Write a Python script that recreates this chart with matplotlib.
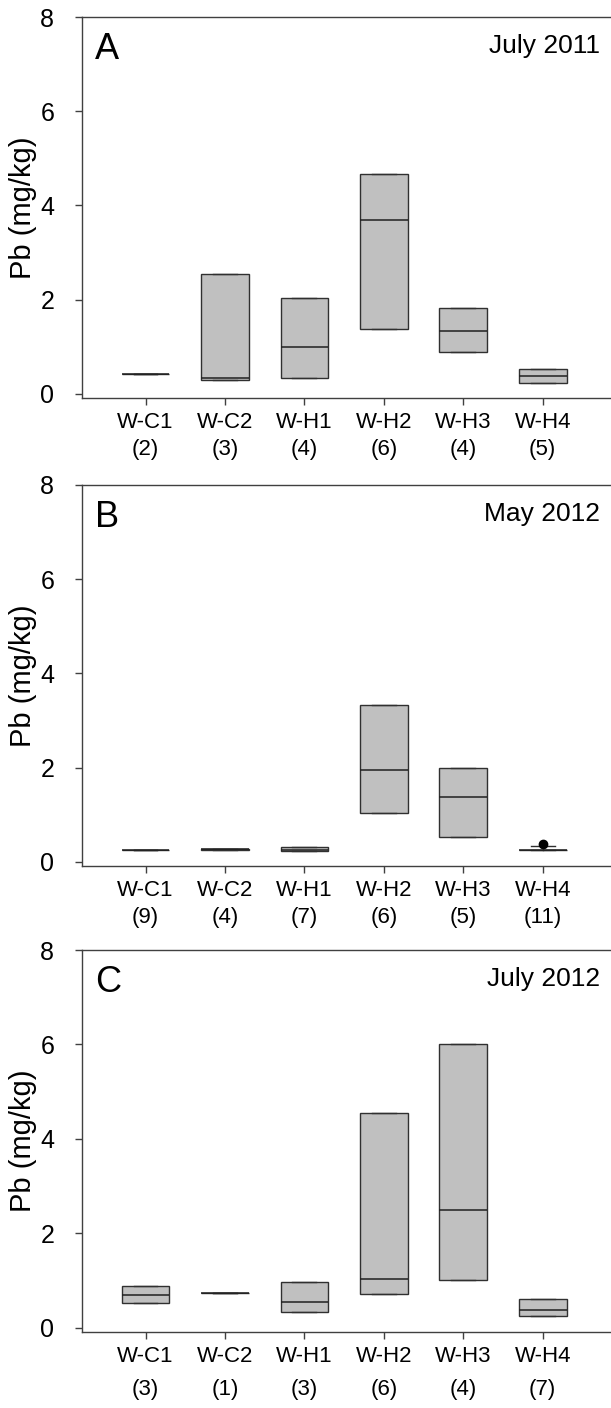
import matplotlib
matplotlib.use("Agg")
import matplotlib.pyplot as plt

plt.rcParams['font.family'] = ['Liberation Sans', 'DejaVu Sans']

sites = ["W-C1", "W-C2", "W-H1", "W-H2", "W-H3", "W-H4"]
panel_letters = ["A", "B", "C"]
panel_dates = ["July 2011", "May 2012", "July 2012"]
counts = [[2, 3, 4, 6, 4, 5],
          [9, 4, 7, 6, 5, 11],
          [3, 1, 3, 6, 4, 7]]

q1_vals = [[0.43, 0.30, 0.33, 1.37, 0.90, 0.23],
           [0.25, 0.25, 0.24, 1.03, 0.53, 0.26],
           [0.52, 0.74, 0.34, 0.71, 1.02, 0.25]]
med_vals = [[0.43, 0.33, 1.00, 3.70, 1.34, 0.39],
            [0.25, 0.27, 0.26, 1.95, 1.38, 0.26],
            [0.69, 0.74, 0.54, 1.03, 2.50, 0.38]]
q3_vals = [[0.43, 2.55, 2.03, 4.67, 1.82, 0.52],
           [0.25, 0.285, 0.32, 3.33, 2.00, 0.26],
           [0.89, 0.74, 0.97, 4.56, 6.00, 0.61]]
whishi_vals = [[None] * 6,
               [None, None, None, None, None, 0.34],
               [None] * 6]
fliers = [[[], [], [], [], [], []],
          [[], [], [], [], [], [0.38]],
          [[], [], [], [], [], []]]

fig = plt.figure(figsize=(6.11, 14.08), dpi=100)
H = 1408.0
W = 611.0
panels_px = [(17, 398), (485, 866), (950, 1332)]
left_px = 82

positions = list(range(1, 7))
for p in range(3):
    top, bot = panels_px[p]
    ax = fig.add_axes([left_px / W, (H - bot) / H, 1 - left_px / W, (bot - top) / H])
    stats = []
    for i in range(6):
        wh = whishi_vals[p][i]
        stats.append(dict(
            med=med_vals[p][i], q1=q1_vals[p][i], q3=q3_vals[p][i],
            whislo=q1_vals[p][i],
            whishi=wh if wh is not None else q3_vals[p][i],
            fliers=fliers[p][i]))
    ax.bxp(stats, positions=positions, widths=0.6, patch_artist=True,
           showcaps=True, showfliers=True,
           boxprops=dict(facecolor="#c0c0c0", edgecolor="#303030", linewidth=1.0),
           medianprops=dict(color="#202020", linewidth=1.1),
           whiskerprops=dict(color="#303030", linewidth=1.0),
           capprops=dict(color="#303030", linewidth=1.0),
           flierprops=dict(marker='o', markerfacecolor='black', markeredgecolor='black',
                           markersize=6))
    ax.set_xlim(0.2, 6.86)
    ax.set_ylim(-0.085, 8)
    ax.set_yticks([0, 2, 4, 6, 8])
    ax.set_xticks(positions)
    ax.set_xticklabels([f"{s}\n({n})" for s, n in zip(sites, counts[p])],
                       linespacing=1.4 if p < 2 else 1.75)
    ax.tick_params(axis='both', direction='out', length=5, width=1.0,
                   color="#404040")
    ax.tick_params(axis='y', labelsize=18, pad=15)
    ax.tick_params(axis='x', labelsize=16, pad=5)
    for s in ['left', 'top', 'bottom']:
        ax.spines[s].set_color("#404040")
        ax.spines[s].set_linewidth(1.0)
    ax.spines['right'].set_visible(False)
    ax.set_ylabel("Pb (mg/kg)", fontsize=21, labelpad=2)
    ax.text(0.025, 0.96, panel_letters[p], transform=ax.transAxes, fontsize=26,
            ha='left', va='top')
    ax.text(0.98, 0.955, panel_dates[p], transform=ax.transAxes, fontsize=19,
            ha='right', va='top')

fig.savefig("out.png", dpi=100)
